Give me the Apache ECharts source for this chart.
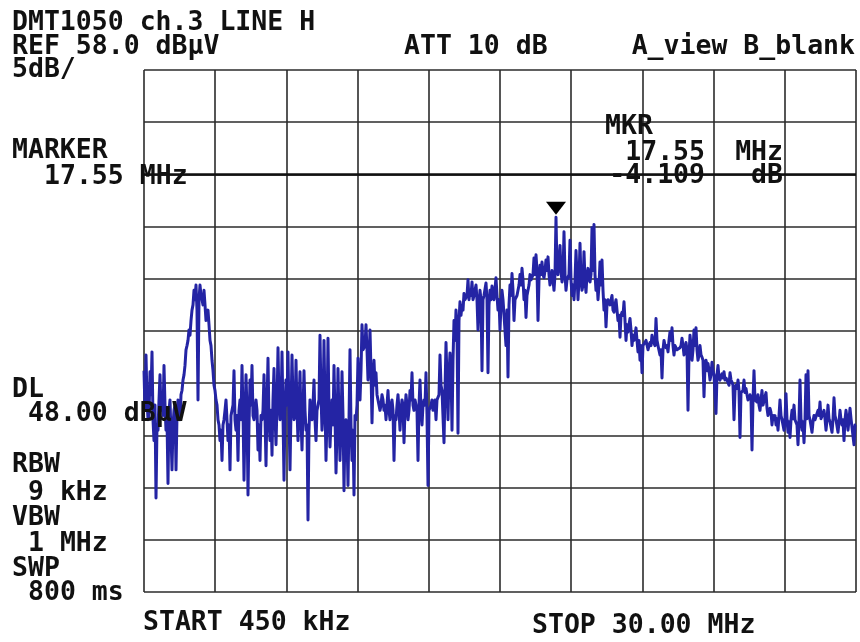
<!DOCTYPE html>
<html>
<head>
<meta charset="utf-8">
<title>DMT1050 ch.3 LINE H</title>
<script src="https://cdn.jsdelivr.net/npm/echarts@6/dist/echarts.min.js"></script>
<style>
  html, body { margin: 0; padding: 0; background: #fff; }
  #chart { width: 860px; height: 642px; }
</style>
</head>
<body>
<div id="chart"></div>
<script>
// Sweep settings
const START_MHZ = 0.45;
const STOP_MHZ = 30.0;
const REF_LEVEL = 58.0;      // dBµV, top of the graticule
const DB_PER_DIV = 5;
const DIVISIONS = 10;
const DISPLAY_LINE = 48.0;   // DL, dBµV
const MARKER_MHZ = 17.55;
const ATT_DB = 10;

// Trace A, dBµV, even sweep bins (0, 2, 4, ...)
const levelsEven = [
  29.2,30.7,24.5,29.1,31.0,22.5,17.0,23.5,28.8,26.9,
  29.7,23.5,18.4,26.4,19.7,25.4,19.7,26.4,24.5,27.3,
  28.8,31.2,32.1,32.6,35.0,36.9,37.4,26.4,37.4,36.0,
  36.9,34.0,35.0,32.1,30.2,27.8,26.4,24.5,22.5,20.6,
  24.5,26.4,22.5,19.7,25.4,29.2,23.5,20.6,26.4,29.7,
  18.7,28.8,17.3,28.3,29.7,24.5,26.4,21.6,20.6,24.5,
  28.8,20.1,30.4,22.5,21.1,29.4,22.1,31.4,24.5,31.0,
  18.7,28.3,31.0,19.7,30.7,24.5,30.2,22.5,29.1,21.6,
  29.2,23.5,14.9,26.4,24.5,28.3,22.5,25.4,32.6,23.5,
  32.1,20.6,32.3,21.9,26.4,29.7,19.4,29.4,20.6,29.1,
  17.7,24.5,18.2,31.2,20.6,17.3,24.5,30.4,26.4,33.6,
  31.2,33.6,28.3,33.1,24.2,30.2,29.0,26.4,25.4,26.9,
  25.4,24.5,27.3,24.5,26.4,20.6,24.5,26.9,23.5,26.4,
  22.3,26.9,24.5,27.3,29.0,25.4,26.4,20.6,28.3,24.0,
  26.4,29.0,18.2,25.4,26.4,25.9,24.5,26.4,30.7,27.3,
  22.3,31.9,24.5,30.9,23.5,34.0,35.0,23.2,35.8,35.5,
  36.6,36.0,37.9,36.9,37.7,36.4,37.4,33.1,36.9,29.2,
  36.4,37.6,29.0,36.9,37.3,36.0,38.1,35.0,33.1,36.9,
  36.0,31.6,28.6,37.4,38.5,34.0,36.0,36.9,38.4,39.0,
  36.0,34.3,36.9,38.4,37.9,40.0,40.3,34.0,39.3,39.6,
  38.1,39.8,40.1,37.4,38.8,36.9,43.891,38.4,41.2,37.7,
  42.5,36.9,37.9,41.7,36.4,36.0,40.7,36.0,41.4,36.9,
  40.6,36.7,39.0,37.7,42.9,43.2,36.9,36.0,39.6,39.8,
  35.0,33.4,36.0,35.5,36.4,34.8,36.0,34.0,32.4,34.8,
  35.8,32.1,32.9,34.2,31.6,32.1,33.3,31.0,30.2,29.0,
  31.6,32.1,31.2,31.9,32.6,32.1,34.2,31.6,30.7,28.5,
  32.1,31.4,31.0,32.9,33.3,30.7,31.6,31.2,31.4,32.3,
  30.7,31.9,25.4,32.6,30.2,33.1,33.3,30.2,31.6,30.5,
  26.7,30.2,29.9,28.3,30.0,28.8,25.1,29.7,28.3,28.9,
  29.1,28.5,28.3,29.0,28.1,24.5,27.8,28.3,22.8,27.1,
  28.3,27.5,26.4,26.9,21.6,29.2,26.4,26.9,25.4,27.3,
  25.9,27.1,24.9,25.6,24.0,24.6,24.0,23.5,26.4,24.5,
  23.5,27.0,23.3,22.8,25.4,25.9,24.5,22.1,28.3,23.5,
  22.3,28.8,29.2,24.5,23.3,24.9,24.5,25.4,26.2,24.5,
  25.4,23.5,25.9,24.3,23.3,26.6,24.5,23.3,25.4,24.0,
  22.5,25.4,23.5,25.6,24.5,22.1,24.0
];

// Trace A, dBµV, odd sweep bins (1, 3, 5, ...)
const levelsOdd = [
  25.4,26.4,24.9,26.9,24.5,25.9,24.0,26.4,25.4,24.9,
  25.9,24.5,25.4,26.4,24.0,25.9,24.9,26.4,26.9,28.3,
  29.7,31.6,33.1,34.0,35.5,36.0,35.0,36.0,36.4,35.5,
  35.5,34.5,33.6,31.6,29.2,27.3,25.9,24.0,23.5,24.0,
  25.4,24.5,24.0,24.9,25.9,24.5,24.9,25.4,24.5,25.4,
  24.5,25.4,24.0,25.9,24.9,24.5,25.4,24.0,24.9,25.4,
  24.9,25.9,24.5,25.4,26.4,24.9,25.9,26.4,25.4,24.9,
  25.4,25.9,24.9,25.4,26.4,24.9,25.4,25.9,24.5,25.4,
  25.4,24.0,23.5,24.9,25.9,24.5,25.4,26.4,26.9,25.4,
  25.9,24.9,25.4,24.5,24.0,24.9,23.5,24.5,24.0,24.9,
  23.5,23.0,24.5,24.0,23.5,24.9,25.9,27.3,29.2,31.2,
  31.6,31.2,30.2,29.2,28.3,27.8,26.9,25.9,25.9,26.4,
  25.9,25.9,25.4,25.9,25.4,24.9,25.9,25.4,25.4,25.9,
  25.4,25.9,25.4,26.4,25.9,26.4,25.4,25.9,25.4,25.9,
  25.9,24.9,25.4,25.9,25.4,26.4,26.4,26.9,27.8,27.3,
  27.3,28.3,28.8,29.2,30.2,32.1,33.1,34.0,34.5,35.0,
  36.0,36.4,36.0,36.4,36.0,36.4,36.0,35.5,36.0,36.0,
  36.4,36.0,35.5,36.0,36.4,36.0,36.4,36.0,35.5,36.0,
  36.0,35.0,35.5,36.4,36.9,36.0,36.4,37.4,37.4,37.9,
  36.9,36.4,37.4,37.9,38.4,38.4,38.8,37.9,38.4,38.4,
  38.8,38.8,38.4,37.9,37.9,38.4,38.8,38.4,38.8,38.4,
  38.4,37.9,38.4,37.9,37.4,37.9,38.4,37.9,37.9,37.4,
  37.9,38.4,37.9,38.4,38.8,38.4,37.9,37.4,37.4,36.9,
  36.0,35.5,36.0,35.5,35.0,35.5,35.0,34.5,34.5,34.5,
  34.0,33.6,33.6,33.1,32.6,32.6,32.1,32.1,31.6,31.6,
  31.6,32.1,31.6,31.6,32.1,31.6,32.1,31.6,31.2,31.2,
  31.6,31.6,32.1,32.1,31.6,31.6,31.2,31.2,31.6,31.6,
  31.2,31.2,30.7,31.6,31.2,31.6,31.2,30.7,30.7,30.2,
  29.7,29.2,29.2,28.8,29.2,28.8,28.8,28.5,28.3,28.5,
  28.3,28.3,27.8,28.3,27.8,27.3,27.5,27.3,27.1,27.3,
  27.1,26.9,26.6,26.4,26.4,26.4,26.2,25.9,26.4,25.9,
  25.9,25.6,25.4,25.2,24.9,24.9,24.6,24.9,24.9,24.5,
  24.6,24.5,24.3,24.5,24.6,24.5,24.0,24.5,24.5,24.3,
  24.5,24.6,24.9,24.5,24.3,24.5,24.6,24.9,24.6,24.5,
  24.6,24.5,24.6,24.3,24.5,24.9,24.5,24.3,24.5,24.5,
  24.5,24.6,24.5,24.6,24.5,24.0
];

// Merge the two bin sets back into sweep order
const levels = [];
levelsEven.forEach((v, i) => {
  levels.push(v);
  if (i < levelsOdd.length) levels.push(levelsOdd[i]);
});

const N = levels.length;
const step = (STOP_MHZ - START_MHZ) / (N - 1);
const freqs = levels.map((_, i) => START_MHZ + i * step);
const trace = levels.map((v, i) => [freqs[i], v]);

const markerIdx = Math.round((MARKER_MHZ - START_MHZ) / step);
const markerLevel = levels[markerIdx];
const markerDelta = (markerLevel - DISPLAY_LINE).toFixed(3);
const bottomLevel = REF_LEVEL - DB_PER_DIV * DIVISIONS;

const FONT = 'bold 26.5px "DejaVu Sans Mono", "Liberation Mono", monospace';
const INK = '#111';

function txt(str, x, y, align) {
  return {
    type: 'text', z: 100, silent: true,
    style: {
      text: str, x: x, y: y + 1.5, font: FONT, fill: INK,
      textAlign: align || 'left', textVerticalAlign: 'middle'
    }
  };
}

const chart = echarts.init(document.getElementById('chart'), null, { renderer: 'canvas' });

const hidden = { axisLine: { show: false }, axisTick: { show: false }, axisLabel: { show: false }, splitLine: { show: false } };
const graticule = {
  axisLine: { show: false }, axisTick: { show: false }, axisLabel: { show: false },
  splitLine: { show: true, lineStyle: { color: '#2b2b2b', width: 1.6 } }
};

chart.setOption({
  animation: false,
  backgroundColor: '#ffffff',
  grid: { left: 144, top: 70, width: 712, height: 522, containLabel: false },
  xAxis: [
    Object.assign({ type: 'value', min: START_MHZ, max: STOP_MHZ }, hidden),
    Object.assign({ type: 'value', min: 0, max: DIVISIONS, interval: 1 }, graticule)
  ],
  yAxis: [
    Object.assign({ type: 'value', min: bottomLevel, max: REF_LEVEL }, hidden),
    Object.assign({ type: 'value', min: 0, max: DIVISIONS, interval: 1 }, graticule)
  ],
  series: [
    {
      type: 'line', xAxisIndex: 1, yAxisIndex: 1, data: [], silent: true
    },
    {
      name: 'A', type: 'line', xAxisIndex: 0, yAxisIndex: 0,
      data: trace, showSymbol: false, silent: true, z: 5, sampling: null,
      lineStyle: { color: '#2424a4', width: 3.0, join: 'round' },
      markLine: {
        silent: true, symbol: 'none', animation: false,
        label: { show: false },
        lineStyle: { color: '#111', width: 2.6, type: 'solid' },
        data: [{ yAxis: DISPLAY_LINE }]
      },
      markPoint: {
        silent: true, animation: false,
        data: [{
          coord: [freqs[markerIdx], markerLevel],
          symbol: 'triangle', symbolSize: [20, 13], symbolRotate: 180,
          symbolOffset: [0, -9],
          itemStyle: { color: '#000' }, label: { show: false }
        }]
      }
    }
  ],
  graphic: [
    txt('DMT1050 ch.3 LINE H', 12, 22),
    txt('REF ' + REF_LEVEL.toFixed(1) + ' dBµV', 12, 46),
    txt('ATT ' + ATT_DB + ' dB', 404, 46),
    txt('A_view B_blank', 855, 46, 'right'),
    txt(DB_PER_DIV + 'dB/', 12, 69),
    txt('MARKER', 12, 150),
    txt(MARKER_MHZ.toFixed(2) + ' MHz', 44, 176),
    txt('MKR', 605, 126),
    txt(MARKER_MHZ.toFixed(2), 705, 152, 'right'),
    txt('MHz', 783, 152, 'right'),
    txt(markerDelta, 705, 175, 'right'),
    txt('dB', 783, 175, 'right'),
    txt('DL', 12, 389),
    txt(DISPLAY_LINE.toFixed(2) + ' dBµV', 28, 413),
    txt('RBW', 12, 464),
    txt('9 kHz', 28, 492),
    txt('VBW', 12, 517),
    txt('1 MHz', 28, 543),
    txt('SWP', 12, 568),
    txt('800 ms', 28, 592),
    txt('START ' + Math.round(START_MHZ * 1000) + ' kHz', 143, 622),
    txt('STOP ' + STOP_MHZ.toFixed(2) + ' MHz', 532, 625)
  ]
});
</script>
</body>
</html>
